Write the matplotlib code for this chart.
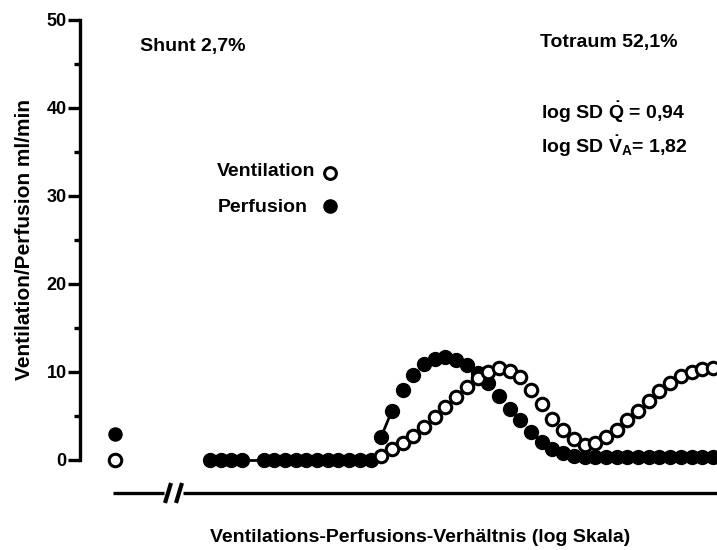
import numpy as np
import matplotlib
matplotlib.use("Agg")
import matplotlib.pyplot as plt

plt.rcParams['font.family'] = ['Liberation Sans', 'DejaVu Sans']
plt.rcParams['font.weight'] = 'bold'
plt.rcParams['mathtext.fontset'] = 'custom'
plt.rcParams['mathtext.rm'] = 'Liberation Sans:bold'
plt.rcParams['mathtext.it'] = 'Liberation Sans:bold'
plt.rcParams['mathtext.bf'] = 'Liberation Sans:bold'

nan = np.nan
# compartment index (log-spaced VA/Q compartments), shunt shown separately
compartments = list(range(48))
shunt_position = -8.9
shunt_perfusion = 3.0
shunt_ventilation = 0.0

perfusion = [0, 0, 0, 0, nan, 0, 0, 0, 0, 0, 0, 0, 0, 0, 0, 0,
             2.65, 5.6, 7.95, 9.66, 10.9, 11.45, 11.7, 11.4, 10.8, 9.9,
             8.7, 7.3, 5.85, 4.5, 3.2, 2.1, 1.3, 0.75, 0.42, 0.3,
             0.3, 0.3, 0.3, 0.3, 0.3, 0.3, 0.3, 0.3, 0.3, 0.3, 0.3, 0.3]
ventilation = [nan] * 16 + [0.4, 1.3, 1.9, 2.7, 3.8, 4.85, 6.0, 7.2, 8.3, 9.3,
                            10.0, 10.45, 10.15, 9.4, 8.0, 6.4, 4.7, 3.4, 2.35, 1.75,
                            1.95, 2.6, 3.45, 4.5, 5.6, 6.7, 7.8, 8.75, 9.5, 10.0,
                            10.3, 10.45]
# pairs of compartments joined by a connecting line in the original
joined = [(3, 5), (16, 17)]

y_ticks = [0, 10, 20, 30, 40, 50]
y_minor = [5, 15, 25, 35, 45]

W, H = 717, 550
fig = plt.figure(figsize=(W / 100, H / 100), dpi=100)
ax = fig.add_axes([80 / W, 90 / H, 637 / W, 440 / H])
ax.set_xlim(-12.15, 47.38)
ax.set_ylim(0, 50)

for s in ['top', 'right', 'bottom']:
    ax.spines[s].set_visible(False)
ax.spines['left'].set_linewidth(2.4)
ax.set_xticks([])
ax.set_yticks(y_ticks)
ax.set_yticks(y_minor, minor=True)
ax.tick_params(axis='y', which='major', length=8.6, width=2.4, pad=1, labelsize=13)
ax.tick_params(axis='y', which='minor', length=4.3, width=2.4)
for lab in ax.get_yticklabels():
    lab.set_fontweight('bold')

x = np.array(compartments, dtype=float)
perf = np.array(perfusion, dtype=float)
vent = np.array(ventilation, dtype=float)

for a, b in joined:
    ax.plot(x[[a, b]], perf[[a, b]], color='black', lw=2, zorder=2, clip_on=False)

FS = 10.0   # filled marker size
OS = 9.0    # open marker size
ax.plot(x, perf, 'o', color='black', markersize=FS, zorder=3, clip_on=False)
ax.plot(x, vent, 'o', mfc='white', mec='black', mew=2.2, markersize=OS, zorder=4, clip_on=False)
ax.plot([shunt_position], [shunt_perfusion], 'o', color='black', markersize=FS - 0.6, clip_on=False)
ax.plot([shunt_position], [shunt_ventilation], 'o', mfc='white', mec='black', mew=2.2,
        markersize=OS, clip_on=False)

# broken x axis line below the data
ya = -33 / 440
def fx(px):
    return (px - 80) / 637
ax.plot([fx(113), fx(164)], [ya, ya], color='black', lw=2.4, transform=ax.transAxes,
        clip_on=False, solid_capstyle='butt')
ax.plot([fx(183), fx(717)], [ya, ya], color='black', lw=2.4, transform=ax.transAxes,
        clip_on=False, solid_capstyle='butt')
for x0 in (165, 176):
    ax.plot([fx(x0), fx(x0 + 6)], [(460 - 503) / 440, (460 - 483) / 440], color='black',
            lw=3, transform=ax.transAxes, clip_on=False, solid_capstyle='butt')

ax.set_ylabel('Ventilation/Perfusion ml/min', fontsize=15, fontweight='bold', labelpad=9)

def ft(px, py, s, size=14, **kw):
    fig.text(px / W, 1 - py / H, s, fontsize=size, fontweight='bold', va='center', **kw)

ft(420, 537, 'Ventilations-Perfusions-Verhältnis (log Skala)', ha='center')
ft(140, 47, 'Shunt 2,7%', ha='left')
ft(540, 42, 'Totraum 52,1%', ha='left')
ft(541, 112, r'log SD $\dot{Q}$ = 0,94', ha='left')
ft(541, 146, r'log SD $\dot{V}_A$= 1,82', ha='left')
ft(217, 172, 'Ventilation', ha='left')
ft(218, 207, 'Perfusion', ha='left')
fig.add_artist(plt.Line2D([330 / W], [1 - 173 / H], marker='o', mfc='white', mec='black',
                          mew=2.2, markersize=OS - 0.5, transform=fig.transFigure))
fig.add_artist(plt.Line2D([330 / W], [1 - 206 / H], marker='o', color='black',
                          markersize=FS - 0.5, transform=fig.transFigure))

fig.savefig('out.png', dpi=100)
